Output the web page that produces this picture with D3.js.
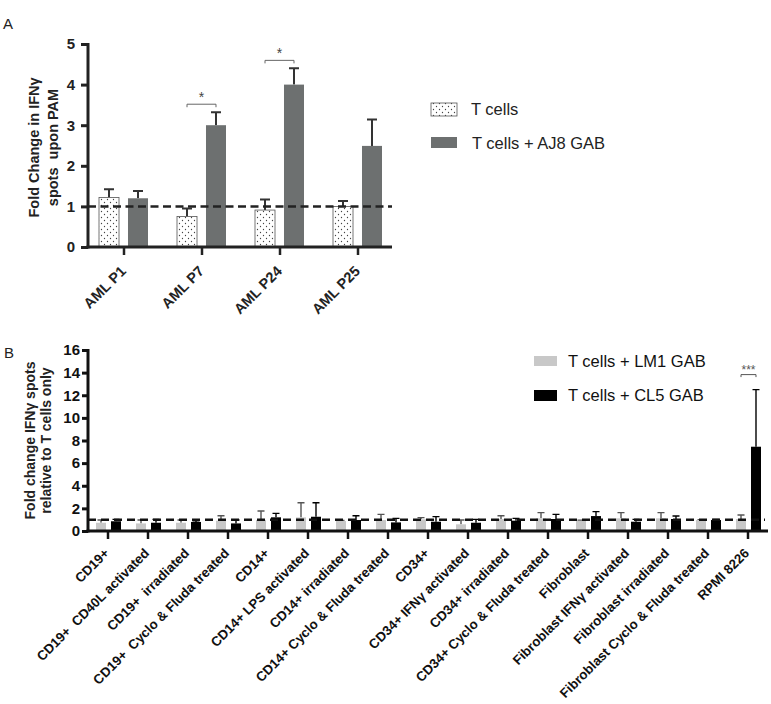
<!DOCTYPE html>
<html><head><meta charset="utf-8">
<script src="https://cdn.jsdelivr.net/npm/d3@7"></script>
<style>
body{margin:0;background:#fff;}
svg{display:block;font-family:"Liberation Sans",Arial,Helvetica,sans-serif;}
text{white-space:pre;}
</style></head>
<body>
<svg id="chart" width="771" height="704"></svg>
<script>
// ---------- Panel A data ----------
const catsA = ["AML P1", "AML P7", "AML P24", "AML P25"];
const tCells = [1.22, 0.75, 0.91, 1.00];
const tCellsSem = [0.20, 0.20, 0.26, 0.13];
const tCellsAJ8 = [1.20, 3.00, 4.00, 2.49];
const tCellsAJ8Sem = [0.18, 0.32, 0.40, 0.65];
const ticksA = [0, 1, 2, 3, 4, 5];
const seriesA = ["T cells", "T cells + AJ8 GAB"];
const sigA = [{cat: "AML P7", label: "*"}, {cat: "AML P24", label: "*"}];

// ---------- Panel B data ----------
const catsB = ["CD19+", "CD19+  CD40L activated", "CD19+  irradiated", "CD19+  Cyclo & Fluda treated",
  "CD14+", "CD14+ LPS activated", "CD14+ irradiated", "CD14+ Cyclo & Fluda treated",
  "CD34+", "CD34+ IFNγ activated", "CD34+ irradiated", "CD34+ Cyclo & Fluda treated",
  "Fibroblast", "Fibroblast IFNγ activated", "Fibroblast irradiated", "Fibroblast Cyclo & Fluda treated",
  "RPMI 8226"];
const lm1 = [0.73, 0.67, 0.73, 0.91, 0.97, 1.20, 0.88, 0.97, 1.03, 0.59, 1.06, 1.12, 0.91, 1.12, 1.12, 0.97, 1.06];
const lm1Sem = [0.24, 0.30, 0.24, 0.44, 0.80, 1.30, 0.05, 0.50, 0.15, 0.38, 0.29, 0.50, 0.04, 0.50, 0.50, 0.02, 0.35];
const cl5 = [0.86, 0.73, 0.80, 0.67, 1.21, 1.26, 0.97, 0.76, 0.82, 0.73, 0.91, 1.06, 1.32, 0.82, 1.06, 0.97, 7.45];
const cl5Sem = [0.17, 0.30, 0.10, 0.30, 0.35, 1.24, 0.38, 0.36, 0.45, 0.30, 0.21, 0.41, 0.39, 0.21, 0.26, 0.06, 5.05];
const ticksB = [0, 2, 4, 6, 8, 10, 12, 14, 16];
const seriesB = ["T cells + LM1 GAB", "T cells + CL5 GAB"];
const sigB = [{cat: "RPMI 8226", label: "***"}];

const FONT = '"Liberation Sans",Arial,Helvetica,sans-serif';
const svg = d3.select("#chart");
svg.append("rect").attr("width", 771).attr("height", 704).attr("fill", "#fff");

// dotted pattern
const defs = svg.append("defs");
const pat = defs.append("pattern").attr("id", "dots").attr("patternUnits", "userSpaceOnUse")
  .attr("width", 6).attr("height", 6);
pat.append("rect").attr("width", 6).attr("height", 6).attr("fill", "#fff");
pat.append("circle").attr("cx", 1.5).attr("cy", 1.5).attr("r", 0.65).attr("fill", "#444");
pat.append("circle").attr("cx", 4.5).attr("cy", 4.5).attr("r", 0.65).attr("fill", "#444");

// ================= PANEL A =================
const A = {left: 88, right: 392, top: 44, bottom: 247};
const xA = d3.scaleBand().domain(catsA).range([85, 397]);
const xA1 = d3.scaleBand().domain(seriesA).range([-25, 24]).paddingInner(0.31);
const yA = d3.scaleLinear().domain([0, 5]).range([A.bottom, A.top]);
const gA = svg.append("g");

svg.append("text").attr("x", 3).attr("y", 29).attr("font-size", 15).text("A").attr("fill", "#222");

const dataA = catsA.map((c, i) => ({cat: c, vals: [
  {s: seriesA[0], v: tCells[i], e: tCellsSem[i]},
  {s: seriesA[1], v: tCellsAJ8[i], e: tCellsAJ8Sem[i]}]}));
const grpA = gA.selectAll("g.cat").data(dataA).join("g")
  .attr("transform", d => `translate(${xA(d.cat) + xA.bandwidth() / 2},0)`);
grpA.selectAll("path.err").data(d => d.vals).join("path")
  .attr("d", d => {
    const cx = xA1(d.s) + xA1.bandwidth() / 2;
    const y1 = yA(d.v), y2 = yA(d.v + d.e);
    return `M${cx},${y1}V${y2}M${cx - 5},${y2}H${cx + 5}`;
  })
  .attr("stroke", "#333").attr("stroke-width", 2).attr("fill", "none");
grpA.selectAll("rect").data(d => d.vals).join("rect")
  .attr("x", d => xA1(d.s)).attr("width", xA1.bandwidth())
  .attr("y", d => yA(d.v)).attr("height", d => yA(0) - yA(d.v))
  .attr("fill", d => d.s === seriesA[0] ? "url(#dots)" : "#6d7070")
  .attr("stroke", d => d.s === seriesA[0] ? "#555" : "none").attr("stroke-width", 0.8);

gA.append("line").attr("x1", A.left).attr("x2", A.right).attr("y1", yA(1)).attr("y2", yA(1))
  .attr("stroke", "#222").attr("stroke-width", 2.5).attr("stroke-dasharray", "8,4.5");

const axA = gA.append("g").attr("transform", `translate(${A.left},0)`)
  .call(d3.axisLeft(yA).tickValues(ticksA).tickFormat(d3.format("d")).tickSize(7).tickSizeOuter(0).tickPadding(6));
axA.select(".domain").attr("stroke", "#222").attr("stroke-width", 3).attr("d", `M0,${A.top - 1}V${A.bottom + 1.5}`);
axA.selectAll(".tick line").attr("stroke", "#222").attr("stroke-width", 3);
axA.selectAll(".tick text").attr("font-size", 15).attr("font-weight", "bold").attr("font-family", FONT).attr("fill", "#222");

const axAx = gA.append("g").attr("transform", `translate(0,${A.bottom})`)
  .call(d3.axisBottom(xA).tickSize(8).tickSizeOuter(0).tickPadding(4));
axAx.select(".domain").attr("stroke", "#222").attr("stroke-width", 3).attr("d", `M${A.left - 1.5},0H${A.right}`);
axAx.selectAll(".tick line").attr("stroke", "#222").attr("stroke-width", 2.5);
axAx.selectAll(".tick text").attr("font-size", 14.5).attr("font-weight", "bold").attr("font-family", FONT)
  .attr("fill", "#222").attr("text-anchor", "end").attr("dy", null).attr("y", 0)
  .attr("transform", "translate(3,25) rotate(-45)");

const tA = gA.append("text").attr("transform", `translate(40,${(A.top + A.bottom) / 2 + 2}) rotate(-90)`)
  .attr("text-anchor", "middle").attr("font-size", 14.5).attr("font-weight", "bold").attr("fill", "#222");
tA.append("tspan").attr("x", 0).attr("dy", -1).text("Fold Change in IFNγ");
tA.append("tspan").attr("x", 0).attr("dy", 19).text("spots  upon PAM");

sigA.forEach(s => {
  const i = catsA.indexOf(s.cat);
  const c = xA(s.cat) + xA.bandwidth() / 2;
  const xl = c + xA1(seriesA[0]) + xA1.bandwidth() / 2;
  const xr = c + xA1(seriesA[1]) + xA1.bandwidth() / 2;
  const top = Math.max(tCells[i] + tCellsSem[i], tCellsAJ8[i] + tCellsAJ8Sem[i]);
  const yb = yA(top) - 8;
  gA.append("path").attr("d", `M${xl},${yb + 3}V${yb}H${xr}V${yb + 3}`).attr("stroke", "#666").attr("stroke-width", 1).attr("fill", "none");
  gA.append("text").attr("x", (xl + xr) / 2).attr("y", yb - 2).attr("text-anchor", "middle")
    .attr("font-size", 14).attr("fill", "#444").text(s.label);
});

// legend A
const legA = svg.append("g");
legA.append("rect").attr("x", 431).attr("y", 103).attr("width", 26).attr("height", 13)
  .attr("fill", "url(#dots)").attr("stroke", "#555").attr("stroke-width", 0.8);
legA.append("text").attr("x", 471).attr("y", 115).attr("font-size", 16.5).attr("fill", "#222").text(seriesA[0]);
legA.append("rect").attr("x", 431).attr("y", 137).attr("width", 26).attr("height", 11).attr("fill", "#6d7070");
legA.append("text").attr("x", 472).attr("y", 149).attr("font-size", 16.5).attr("fill", "#222").text(seriesA[1]);

// ================= PANEL B =================
const B = {left: 88, right: 768, top: 350, bottom: 531};
const xB = d3.scaleBand().domain(catsB).range([B.left, B.right]);
const xB1 = d3.scaleBand().domain(seriesB).range([-12, 13]).paddingInner(0.333);
const yB = d3.scaleLinear().domain([0, 16]).range([B.bottom, B.top]);
const gB = svg.append("g");
svg.append("text").attr("x", 4).attr("y", 358).attr("font-size", 15).text("B").attr("fill", "#222");

const colB = ["#c8c8c8", "#000"];
const errColB = ["#555", "#000"];
const dataB = catsB.map((c, i) => ({cat: c, vals: [
  {s: seriesB[0], v: lm1[i], e: lm1Sem[i], k: 0},
  {s: seriesB[1], v: cl5[i], e: cl5Sem[i], k: 1}]}));
const grpB = gB.selectAll("g.cat").data(dataB).join("g")
  .attr("transform", d => `translate(${xB(d.cat) + xB.bandwidth() / 2},0)`);
grpB.selectAll("path.err").data(d => d.vals).join("path")
  .attr("d", d => {
    const cx = xB1(d.s) + xB1.bandwidth() / 2;
    const y1 = yB(d.v), y2 = yB(d.v + d.e);
    return `M${cx},${y1}V${y2}M${cx - 3.5},${y2}H${cx + 3.5}`;
  })
  .attr("stroke", d => errColB[d.k]).attr("stroke-width", 1.4).attr("fill", "none");
grpB.selectAll("rect").data(d => d.vals).join("rect")
  .attr("x", d => xB1(d.s)).attr("width", xB1.bandwidth())
  .attr("y", d => yB(d.v)).attr("height", d => yB(0) - yB(d.v))
  .attr("fill", d => colB[d.k]);

gB.append("line").attr("x1", B.left).attr("x2", 765).attr("y1", yB(1)).attr("y2", yB(1))
  .attr("stroke", "#111").attr("stroke-width", 2.5).attr("stroke-dasharray", "8,5");

const axB = gB.append("g").attr("transform", `translate(${B.left},0)`)
  .call(d3.axisLeft(yB).tickValues(ticksB).tickFormat(d3.format("d")).tickSize(6).tickSizeOuter(0).tickPadding(2));
axB.select(".domain").attr("stroke", "#111").attr("stroke-width", 3).attr("d", `M0,${B.top - 1}V${B.bottom + 1.5}`);
axB.selectAll(".tick line").attr("stroke", "#111").attr("stroke-width", 3);
axB.selectAll(".tick text").attr("font-size", 15).attr("font-weight", "bold").attr("font-family", FONT).attr("fill", "#111");

const axBx = gB.append("g").attr("transform", `translate(0,${B.bottom})`)
  .call(d3.axisBottom(xB).tickSize(8).tickSizeOuter(0));
axBx.select(".domain").attr("stroke", "#111").attr("stroke-width", 3).attr("d", `M${B.left - 1.5},0H${B.right}`);
axBx.selectAll(".tick line").attr("stroke", "#111").attr("stroke-width", 2.5);
axBx.selectAll(".tick text").attr("font-size", 13.3).attr("font-weight", "bold").attr("font-family", FONT)
  .attr("fill", "#111").attr("text-anchor", "end").attr("dy", null).attr("y", 0)
  .attr("transform", "translate(2,23) rotate(-45)");

const tB = gB.append("text").attr("transform", `translate(37,${(B.top + B.bottom) / 2}) rotate(-90)`)
  .attr("text-anchor", "middle").attr("font-size", 14).attr("font-weight", "bold").attr("fill", "#222");
tB.append("tspan").attr("x", 0).attr("dy", -2).text("Fold change IFNγ spots");
tB.append("tspan").attr("x", 0).attr("dy", 16).text("relative to T cells only");

sigB.forEach(s => {
  const i = catsB.indexOf(s.cat);
  const c = xB(s.cat) + xB.bandwidth() / 2;
  const xl = c + xB1(seriesB[0]) + xB1.bandwidth() / 2;
  const xr = c + xB1(seriesB[1]) + xB1.bandwidth() / 2;
  const top = Math.max(lm1[i] + lm1Sem[i], cl5[i] + cl5Sem[i]);
  const yb = yB(top) - 15;
  gB.append("path").attr("d", `M${xl},${yb + 2.5}V${yb}H${xr}V${yb + 2.5}`).attr("stroke", "#555").attr("stroke-width", 1).attr("fill", "none");
  gB.append("text").attr("x", (xl + xr) / 2).attr("y", yb - 0.5).attr("text-anchor", "middle")
    .attr("font-size", 12).attr("fill", "#555").text(s.label);
});

const legB = svg.append("g");
legB.append("rect").attr("x", 534).attr("y", 356).attr("width", 23).attr("height", 10).attr("fill", colB[0]);
legB.append("text").attr("x", 568).attr("y", 367).attr("font-size", 16.5).attr("fill", "#111").text(seriesB[0]);
legB.append("rect").attr("x", 534).attr("y", 390).attr("width", 23).attr("height", 11).attr("fill", colB[1]);
legB.append("text").attr("x", 568).attr("y", 401).attr("font-size", 16.5).attr("fill", "#111").text(seriesB[1]);
</script>
</body></html>
